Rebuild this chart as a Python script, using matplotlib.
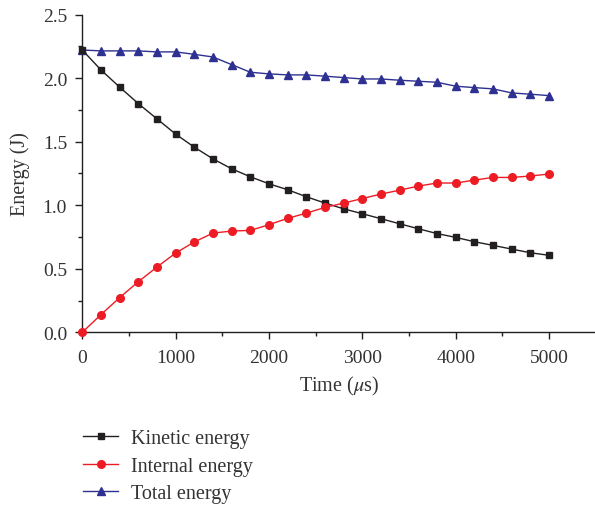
"""energy balance over the impact: kinetic, internal and total energy vs time"""
import matplotlib

matplotlib.use("Agg")
import matplotlib.pyplot as plt  # noqa: E402
from matplotlib.ticker import FormatStrFormatter, MultipleLocator  # noqa: E402

plt.rcParams["font.family"] = ["Liberation Serif", "DejaVu Serif"]
plt.rcParams["mathtext.fontset"] = "stix"

# sampled every 200 us
time_us = [0, 200, 400, 600, 800, 1000, 1200, 1400, 1600, 1800, 2000, 2200, 2400,
           2600, 2800, 3000, 3200, 3400, 3600, 3800, 4000, 4200, 4400, 4600, 4800, 5000]
kinetic = [2.222, 2.065, 1.93, 1.80, 1.68, 1.56, 1.457, 1.365, 1.287, 1.224, 1.169,
           1.122, 1.067, 1.017, 0.972, 0.933, 0.894, 0.854, 0.815, 0.777, 0.747,
           0.713, 0.684, 0.655, 0.626, 0.606]
internal = [0.0, 0.139, 0.273, 0.398, 0.514, 0.624, 0.711, 0.781, 0.797, 0.802, 0.847,
            0.897, 0.938, 0.983, 1.017, 1.053, 1.088, 1.119, 1.151, 1.175, 1.175,
            1.198, 1.219, 1.219, 1.23, 1.246]
total = [2.222, 2.215, 2.215, 2.215, 2.207, 2.207, 2.188, 2.167, 2.107, 2.047, 2.034,
         2.026, 2.026, 2.016, 2.005, 1.994, 1.994, 1.984, 1.976, 1.968, 1.937, 1.926,
         1.916, 1.884, 1.874, 1.863]

BLACK, RED, BLUE = "#231f20", "#ed1c24", "#2e3192"
TEXT = "#333333"

fig = plt.figure(figsize=(5.95, 5.06), dpi=100)
ax = fig.add_axes([0.1383, 0.3413, 0.8630, 0.6277])

ax.plot(time_us, kinetic, "-s", color=BLACK, lw=1.0, ms=5, label="Kinetic energy", clip_on=False, zorder=3)
ax.plot(time_us, internal, "-o", color=RED, lw=1.0, ms=5.5, label="Internal energy", clip_on=False, zorder=3)
ax.plot(time_us, total, "-^", color=BLUE, lw=1.0, ms=6, label="Total energy", clip_on=False, zorder=2)

ax.set_xlim(0, 5500)
ax.set_ylim(0, 2.5)
ax.xaxis.set_minor_locator(MultipleLocator(500))
ax.yaxis.set_major_locator(MultipleLocator(0.5))
ax.yaxis.set_minor_locator(MultipleLocator(0.25))
ax.set_xticks([0, 1000, 2000, 3000, 4000, 5000])
ax.yaxis.set_major_formatter(FormatStrFormatter("%.1f"))
for side in ("top", "right"):
    ax.spines[side].set_visible(False)
for side in ("left", "bottom"):
    ax.spines[side].set_linewidth(1.0)
    ax.spines[side].set_color(BLACK)
ax.tick_params(which="major", direction="out", length=5, width=1.0, labelsize=14,
               colors=BLACK, labelcolor=TEXT)
ax.tick_params(which="minor", direction="out", length=3, width=1.0, colors=BLACK)
ax.tick_params(axis="x", pad=7)
ax.tick_params(axis="y", pad=6)
ax.set_xlabel(r"Time ($\mu$s)", fontsize=14.5, color=TEXT, labelpad=6)
ax.set_ylabel("Energy (J)", fontsize=14.5, color=TEXT, labelpad=9)

fig.legend(loc="upper left", bbox_to_anchor=(0.1395, 0.150), frameon=False, fontsize=14.5,
           borderaxespad=0, borderpad=0, handlelength=1.75, handletextpad=0.65,
           labelspacing=0.42, labelcolor=TEXT)

fig.savefig("out.png", dpi=100)
